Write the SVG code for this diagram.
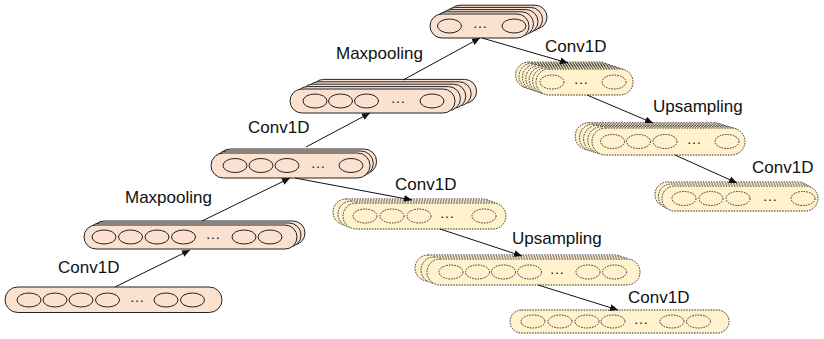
<svg xmlns="http://www.w3.org/2000/svg" width="824" height="339" viewBox="0 0 824 339">
  <style>
    .enc { fill: #FBE2D0; stroke: #222; stroke-width: 1; }
    .dec { fill: #FFF2CC; stroke: #333; stroke-width: 1; stroke-dasharray: 1.6 1.1; }
    .ce { fill: none; stroke: #222; stroke-width: 1; }
    .cd { fill: none; stroke: #333; stroke-width: 1; stroke-dasharray: 1.6 1.1; }
    .dots { font-family: "Liberation Sans", Arial, sans-serif; font-size: 15px; fill: #222; text-anchor: middle; }
    .lbl { font-family: "Liberation Sans", Arial, sans-serif; font-size: 17px; fill: #111; }
    .edge { stroke: #111; stroke-width: 1; fill: none; marker-end: url(#arrow); }
  </style>
  <defs>
    <marker id="arrow" markerUnits="userSpaceOnUse" markerWidth="9" markerHeight="7" refX="8" refY="3.5" orient="auto">
      <path d="M0,0 L8,3.5 L0,7 Z" fill="#111"/>
    </marker>
  </defs>

  <!-- encoder -->
  <g id="enc1">
    <rect class="enc" x="5" y="287" width="217" height="25.5" rx="12.75"/>
    <ellipse class="ce" cx="29" cy="300" rx="12" ry="7"/>
    <ellipse class="ce" cx="55" cy="300" rx="12" ry="7"/>
    <ellipse class="ce" cx="81" cy="300" rx="12" ry="7"/>
    <ellipse class="ce" cx="107.5" cy="300" rx="12" ry="7"/>
    <text class="dots" x="137" y="302">…</text>
    <ellipse class="ce" cx="166" cy="300" rx="12" ry="7"/>
    <ellipse class="ce" cx="192.5" cy="300" rx="12" ry="7"/>
  </g>

  <g id="enc2">
    <rect class="enc" x="92" y="221" width="213" height="24" rx="12"/>
    <rect class="enc" x="88" y="223" width="213" height="24" rx="12"/>
    <rect class="enc" x="84" y="225" width="213" height="24" rx="12"/>
    <ellipse class="ce" cx="104" cy="237" rx="12" ry="7"/>
    <ellipse class="ce" cx="130.5" cy="237" rx="12" ry="7"/>
    <ellipse class="ce" cx="157" cy="237" rx="12" ry="7"/>
    <ellipse class="ce" cx="183.5" cy="237" rx="12" ry="7"/>
    <text class="dots" x="213" y="239">…</text>
    <ellipse class="ce" cx="244" cy="237" rx="12" ry="7"/>
    <ellipse class="ce" cx="270" cy="237" rx="12" ry="7"/>
  </g>

  <g id="enc3">
    <rect class="enc" x="217.6" y="149" width="159" height="25" rx="12.5"/>
    <rect class="enc" x="214.3" y="151" width="159" height="25" rx="12.5"/>
    <rect class="enc" x="211" y="153" width="159" height="25" rx="12.5"/>
    <ellipse class="ce" cx="235" cy="165.5" rx="12" ry="7"/>
    <ellipse class="ce" cx="261" cy="165.5" rx="12" ry="7"/>
    <ellipse class="ce" cx="287" cy="165.5" rx="12" ry="7"/>
    <text class="dots" x="318" y="167.5">…</text>
    <ellipse class="ce" cx="351" cy="165.5" rx="12" ry="7"/>
  </g>

  <g id="enc4">
    <rect class="enc" x="311.6" y="79.4" width="165" height="24" rx="12"/>
    <rect class="enc" x="306.2" y="81.8" width="165" height="24" rx="12"/>
    <rect class="enc" x="300.8" y="84.2" width="165" height="24" rx="12"/>
    <rect class="enc" x="295.4" y="86.6" width="165" height="24" rx="12"/>
    <rect class="enc" x="290" y="89" width="165" height="24" rx="12"/>
    <ellipse class="ce" cx="315" cy="101" rx="12" ry="7"/>
    <ellipse class="ce" cx="340.5" cy="101" rx="12" ry="7"/>
    <ellipse class="ce" cx="366.5" cy="101" rx="12" ry="7"/>
    <text class="dots" x="398" y="103">…</text>
    <ellipse class="ce" cx="432" cy="101" rx="12" ry="7"/>
  </g>

  <g id="enc5">
    <rect class="enc" x="448" y="5.2" width="99" height="24" rx="12"/>
    <rect class="enc" x="443.5" y="7.4" width="99" height="24" rx="12"/>
    <rect class="enc" x="439" y="9.6" width="99" height="24" rx="12"/>
    <rect class="enc" x="434.5" y="11.8" width="99" height="24" rx="12"/>
    <rect class="enc" x="430" y="14" width="99" height="24" rx="12"/>
    <ellipse class="ce" cx="449.5" cy="26" rx="12" ry="7"/>
    <text class="dots" x="480" y="28">…</text>
    <ellipse class="ce" cx="514" cy="26" rx="12" ry="7"/>
  </g>

  <!-- decoder -->
  <g id="dec1">
    <rect class="dec" x="515.6" y="62.1" width="97" height="26" rx="13"/>
    <rect class="dec" x="519" y="63.25" width="97" height="26" rx="13"/>
    <rect class="dec" x="522.4" y="64.4" width="97" height="26" rx="13"/>
    <rect class="dec" x="525.8" y="65.55" width="97" height="26" rx="13"/>
    <rect class="dec" x="529.2" y="66.7" width="97" height="26" rx="13"/>
    <rect class="dec" x="532.6" y="67.85" width="97" height="26" rx="13"/>
    <rect class="dec" x="536" y="69" width="97" height="26" rx="13"/>
    <ellipse class="cd" cx="552" cy="82" rx="12" ry="7"/>
    <text class="dots" x="581" y="84">…</text>
    <ellipse class="cd" cx="614" cy="82" rx="12" ry="7"/>
  </g>

  <g id="dec2">
    <rect class="dec" x="575.2" y="122.8" width="153" height="27" rx="13.5"/>
    <rect class="dec" x="579.4" y="124.1" width="153" height="27" rx="13.5"/>
    <rect class="dec" x="583.6" y="125.4" width="153" height="27" rx="13.5"/>
    <rect class="dec" x="587.8" y="126.7" width="153" height="27" rx="13.5"/>
    <rect class="dec" x="592" y="128" width="153" height="27" rx="13.5"/>
    <ellipse class="cd" cx="612.5" cy="141.5" rx="12" ry="7"/>
    <ellipse class="cd" cx="638.5" cy="141.5" rx="12" ry="7"/>
    <ellipse class="cd" cx="665" cy="141.5" rx="12" ry="7"/>
    <text class="dots" x="694" y="143.5">…</text>
    <ellipse class="cd" cx="727" cy="141.5" rx="12" ry="7"/>
  </g>

  <g id="dec3">
    <rect class="dec" x="655" y="182" width="156" height="25" rx="12.5"/>
    <rect class="dec" x="658.5" y="184" width="156" height="25" rx="12.5"/>
    <rect class="dec" x="662" y="186" width="156" height="25" rx="12.5"/>
    <ellipse class="cd" cx="684" cy="198.5" rx="12" ry="7"/>
    <ellipse class="cd" cx="711" cy="198.5" rx="12" ry="7"/>
    <ellipse class="cd" cx="738" cy="198.5" rx="12" ry="7"/>
    <text class="dots" x="770" y="200.5">…</text>
    <ellipse class="cd" cx="803" cy="198.5" rx="12" ry="7"/>
  </g>

  <g id="dec4">
    <rect class="dec" x="333" y="199" width="163" height="26" rx="13"/>
    <rect class="dec" x="338" y="201" width="163" height="26" rx="13"/>
    <rect class="dec" x="343" y="203" width="163" height="26" rx="13"/>
    <ellipse class="cd" cx="365" cy="216" rx="12" ry="7"/>
    <ellipse class="cd" cx="392" cy="216" rx="12" ry="7"/>
    <ellipse class="cd" cx="419" cy="216" rx="12" ry="7"/>
    <text class="dots" x="447" y="218">…</text>
    <ellipse class="cd" cx="484" cy="216" rx="12" ry="7"/>
  </g>

  <g id="dec5">
    <rect class="dec" x="415" y="255" width="213" height="26" rx="13"/>
    <rect class="dec" x="421" y="257" width="213" height="26" rx="13"/>
    <rect class="dec" x="427" y="259" width="213" height="26" rx="13"/>
    <ellipse class="cd" cx="451" cy="272" rx="12" ry="7"/>
    <ellipse class="cd" cx="477.5" cy="272" rx="12" ry="7"/>
    <ellipse class="cd" cx="503.5" cy="272" rx="12" ry="7"/>
    <ellipse class="cd" cx="529.5" cy="272" rx="12" ry="7"/>
    <text class="dots" x="557" y="274">…</text>
    <ellipse class="cd" cx="588" cy="272" rx="12" ry="7"/>
    <ellipse class="cd" cx="614.5" cy="272" rx="12" ry="7"/>
  </g>

  <g id="dec6">
    <rect class="dec" x="510" y="310" width="219" height="23" rx="11.5"/>
    <ellipse class="cd" cx="533" cy="321.5" rx="12" ry="6.5"/>
    <ellipse class="cd" cx="560" cy="321.5" rx="12" ry="6.5"/>
    <ellipse class="cd" cx="587" cy="321.5" rx="12" ry="6.5"/>
    <ellipse class="cd" cx="613" cy="321.5" rx="12" ry="6.5"/>
    <text class="dots" x="641" y="323.5">…</text>
    <ellipse class="cd" cx="672" cy="321.5" rx="12" ry="6.5"/>
    <ellipse class="cd" cx="698.5" cy="321.5" rx="12" ry="6.5"/>
  </g>

  <!-- connectors -->
  <g id="edges">
    <line class="edge" x1="115" y1="287" x2="190" y2="250"/>
    <line class="edge" x1="202" y1="221" x2="290" y2="178"/>
    <line class="edge" x1="306" y1="147" x2="370" y2="113"/>
    <line class="edge" x1="403" y1="80" x2="480" y2="38"/>
    <line class="edge" x1="482" y1="38" x2="568" y2="63"/>
    <line class="edge" x1="587" y1="95" x2="653" y2="123"/>
    <line class="edge" x1="675" y1="155" x2="737" y2="183"/>
    <line class="edge" x1="295" y1="178" x2="412" y2="200"/>
    <line class="edge" x1="440" y1="229" x2="522" y2="256"/>
    <line class="edge" x1="538" y1="285" x2="618" y2="310"/>
  </g>

  <!-- labels -->
  <g id="labels">
    <text class="lbl" x="58" y="273">Conv1D</text>
    <text class="lbl" x="125" y="203">Maxpooling</text>
    <text class="lbl" x="248" y="133">Conv1D</text>
    <text class="lbl" x="336" y="59">Maxpooling</text>
    <text class="lbl" x="545" y="52">Conv1D</text>
    <text class="lbl" x="653" y="112">Upsampling</text>
    <text class="lbl" x="752" y="173">Conv1D</text>
    <text class="lbl" x="395" y="190">Conv1D</text>
    <text class="lbl" x="512" y="244">Upsampling</text>
    <text class="lbl" x="628" y="303">Conv1D</text>
  </g>
</svg>
